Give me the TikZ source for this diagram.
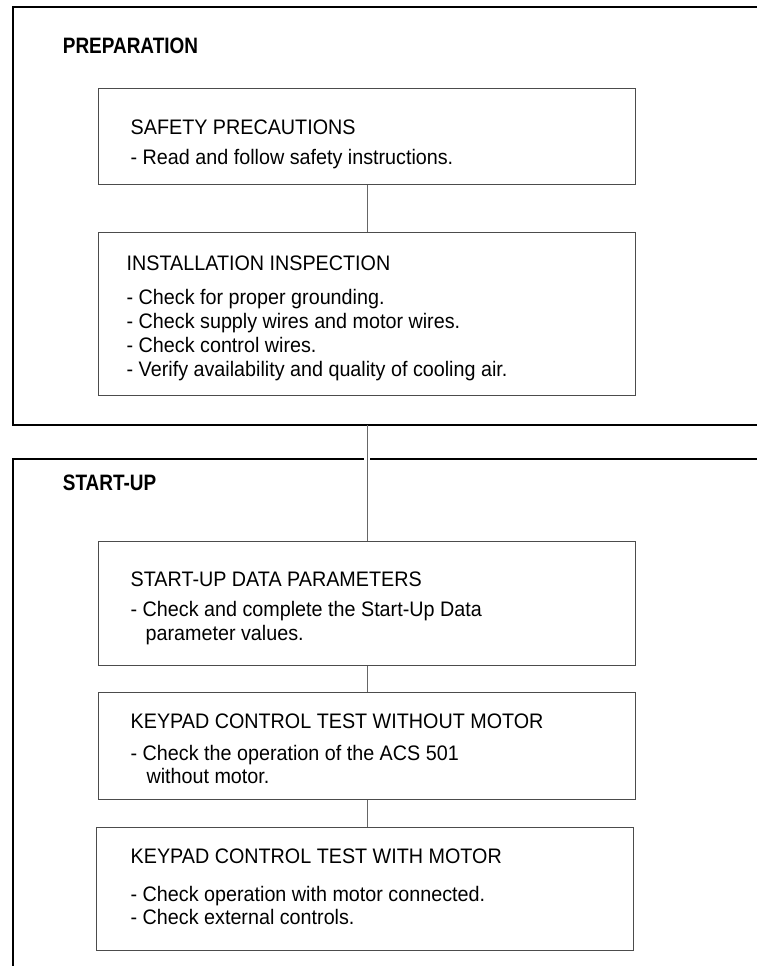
\documentclass[tikz,border=0pt]{standalone}
\usepackage{fontspec}
\setmainfont{Liberation Sans}[FakeStretch=0.94]
\newfontfamily\headfont{Liberation Sans}[FakeStretch=0.85]
\begin{document}
\begin{tikzpicture}[x=1pt,y=-1pt,
  frame/.style={line width=1.7pt, black},
  box/.style={draw=black!70, line width=1pt, rectangle, anchor=north west, inner sep=0pt},
  conn/.style={draw=black!60, line width=1pt},
  txt/.style={anchor=base west, inner sep=0pt, font=\fontsize{21}{24}\selectfont},
  head/.style={anchor=base west, inner sep=0pt, font=\headfont\bfseries\fontsize{22.3}{26}\selectfont}]
\useasboundingbox (0,0) rectangle (757,966);
% outer frames
\coordinate (o1tr) at (770,6.7);
\coordinate (o1tl) at (12.7,6.7);
\coordinate (o1bl) at (12.7,425);
\coordinate (o1br) at (770,425);
\coordinate (o1b) at (367,425);
\draw[frame] (o1tr) -- (o1tl) -- (o1bl) -- (o1br);
\coordinate (o2bl) at (12.7,975);
\coordinate (o2tl) at (12.7,459);
\coordinate (o2ga) at (364,459);
\coordinate (o2gb) at (370,459);
\coordinate (o2tr) at (770,459);
\draw[frame] (o2bl) -- (o2tl) -- (o2ga);
\draw[frame] (o2gb) -- (o2tr);
% headings
\node[head] (prep) at (62.7,53.3) {PREPARATION};
\node[head] (start) at (62.7,490.3) {START-UP};
% boxes
\node[box, minimum width=537pt, minimum height=96pt] (safety) at (97.5,88.3) {};
\node[box, minimum width=537pt, minimum height=163pt] (install) at (97.5,232.3) {};
\node[box, minimum width=537pt, minimum height=124pt] (sud) at (97.5,541) {};
\node[box, minimum width=537pt, minimum height=106.5pt] (kwo) at (97.5,692) {};
\node[box, minimum width=537pt, minimum height=123pt] (kw) at (95.7,827) {};
% connectors
\coordinate (cx) at (367,0);
\draw[conn] (safety.south -| cx) -- (install.north -| cx);
\draw[conn] (o1b) -- (sud.north -| cx);
\draw[conn] (sud.south -| cx) -- (kwo.north -| cx);
\draw[conn] (kwo.south -| cx) -- (kw.north -| cx);
% texts
\node[txt] (t1a) at (130.5,134) {SAFETY PRECAUTIONS};
\node[txt] (t1b) at (130.5,164) {- Read and follow safety instructions.};
\node[txt] (t2a) at (126.5,270) {INSTALLATION INSPECTION};
\node[txt] (t2b) at (126.5,304.5) {- Check for proper grounding.};
\node[txt] (t2c) at (126.5,328.5) {- Check supply wires and motor wires.};
\node[txt] (t2d) at (126.5,352.5) {- Check control wires.};
\node[txt] (t2e) at (126.5,376.5) {- Verify availability and quality of cooling air.};
\node[txt] (t3a) at (130.5,586) {START-UP DATA PARAMETERS};
\node[txt] (t3b) at (130.5,616.7) {- Check and complete the Start-Up Data};
\node[txt] (t3c) at (145.5,640) {parameter values.};
\node[txt] (t4a) at (130.5,728.3) {KEYPAD CONTROL TEST WITHOUT MOTOR};
\node[txt] (t4b) at (130.5,760) {- Check the operation of the ACS 501};
\node[txt] (t4c) at (146.3,783.3) {without motor.};
\node[txt] (t5a) at (130.5,863.5) {KEYPAD CONTROL TEST WITH MOTOR};
\node[txt] (t5b) at (130.5,901) {- Check operation with motor connected.};
\node[txt] (t5c) at (130.5,924) {- Check external controls.};
\end{tikzpicture}
\end{document}
